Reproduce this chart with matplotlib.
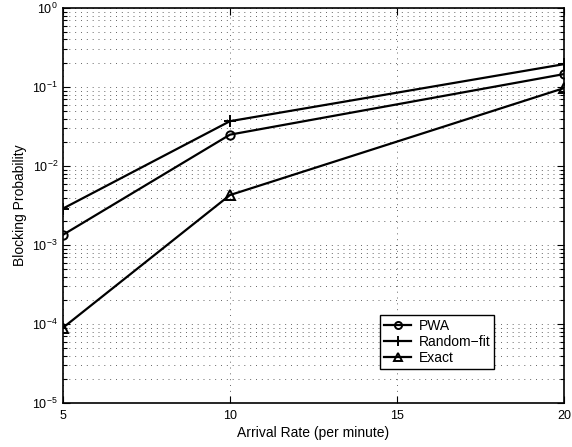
import matplotlib
matplotlib.use('Agg')
import matplotlib.pyplot as plt
from matplotlib.ticker import LogLocator, NullFormatter

# data
rate = [5, 10, 20]
pwa = [1.35e-3, 2.5e-2, 0.146]
random_fit = [2.9e-3, 3.7e-2, 0.195]
exact = [9.0e-5, 4.3e-3, 0.097]

plt.rcParams['font.family'] = ['Liberation Sans', 'DejaVu Sans']
plt.rcParams['mathtext.fontset'] = 'custom'
plt.rcParams['mathtext.rm'] = 'Liberation Sans'

fig = plt.figure(figsize=(5.72, 4.47), dpi=100)
ax = fig.add_axes([0.110, 0.098, 0.876, 0.884])

ax.semilogy(rate, pwa, color='black', lw=1.6, marker='o', ms=6,
            mfc='none', mew=1.4, label='PWA')
ax.semilogy(rate, random_fit, color='black', lw=1.6, marker='+', ms=8,
            mew=1.4, label='Random\u2212fit')
ax.semilogy(rate, exact, color='black', lw=1.6, marker='^', ms=7,
            mfc='none', mew=1.4, label='Exact')

ax.set_xlim(5, 20)
ax.set_ylim(1e-5, 1)
ax.set_xticks([5, 10, 15, 20])
ax.yaxis.set_major_locator(LogLocator(base=10, numticks=10))
ax.yaxis.set_minor_locator(LogLocator(base=10, subs=range(2, 10), numticks=10))
ax.yaxis.set_minor_formatter(NullFormatter())

ax.grid(which='major', color='#666666', linestyle=(0, (1, 5)), lw=0.7)
ax.grid(which='minor', axis='y', color='#666666', linestyle=(0, (1, 5)), lw=0.7)

ax.tick_params(which='both', direction='in', top=True, right=True,
               labelsize=9, width=0.8)
ax.tick_params(axis='x', pad=5)
ax.tick_params(which='major', length=5)
ax.tick_params(which='minor', length=3)
for s in ax.spines.values():
    s.set_linewidth(1.2)

ax.set_xlabel('Arrival Rate (per minute)', fontsize=10, labelpad=3)
ax.set_ylabel('Blocking Probability', fontsize=10, labelpad=4)

leg = ax.legend(loc='lower right', bbox_to_anchor=(0.861, 0.086), fontsize=10,
                fancybox=False, framealpha=1, edgecolor='black',
                handlelength=2.0, borderpad=0.3, labelspacing=0.15,
                handletextpad=0.5, borderaxespad=0, markerscale=0.85)
leg.get_frame().set_linewidth(1.0)

fig.savefig('out.png', dpi=100)
